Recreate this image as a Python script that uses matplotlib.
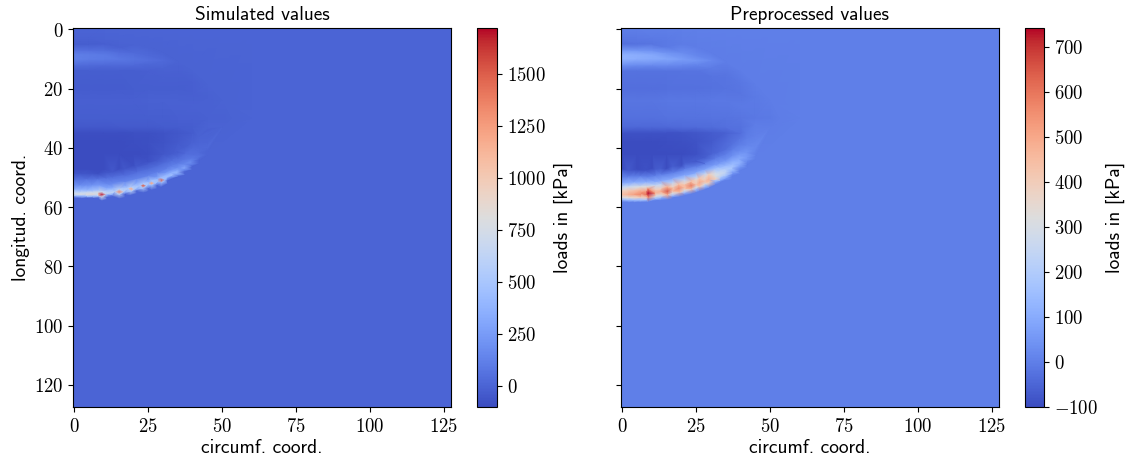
import matplotlib
matplotlib.use("Agg")
import matplotlib.pyplot as plt
from matplotlib.ticker import FuncFormatter
import numpy as np

plt.rcParams['mathtext.fontset'] = 'cm'
SANS = 'cmss10'

W, H = 1127, 463

# value read along the grid: for each column the rows and the load at those rows
base_cols = [0, 5, 10, 15, 20, 25, 30, 35, 40, 45, 50, 53]
base_rows = [
    [3, 5, 7, 8.5, 10, 12, 14, 20, 24, 30, 33, 35, 38, 42, 47],
    [3, 5, 7, 8.5, 10, 12, 14, 20, 24, 30, 33, 35, 38, 42, 47],
    [3, 5, 7, 8.5, 10, 12, 14, 20, 24, 30, 33, 35, 38, 42, 47],
    [4, 6, 8, 10, 12, 14, 20, 24, 30, 33, 35, 38, 42, 47],
    [5, 8, 10, 12, 14, 20, 24, 30, 33, 35, 38, 42, 46],
    [6, 9, 10.5, 12, 14, 20, 24, 30, 33, 35, 38, 42, 44.5],
    [8, 10.5, 13, 16, 20, 24, 30, 33, 35, 38, 42],
    [11, 15, 20, 24, 30, 33, 35, 38, 41],
    [14, 18, 22, 26, 30, 33, 35, 38],
    [18.6, 23, 30, 34, 36],
    [24, 30, 33],
    [30],
]
base_vals = [
    [-15, -28, 50, 115, 115, 35, -25, -32, -18, -28, -45, -90, -97, -100, -100],
    [-12, -24, 45, 105, 105, 30, -25, -32, -18, -28, -45, -90, -97, -100, -100],
    [-8, -20, 35, 95, 95, 25, -25, -32, -18, -28, -45, -90, -97, -100, -100],
    [-8, -10, 45, 85, 25, -25, -30, -17, -27, -42, -88, -95, -100, -100],
    [-6, 30, 65, 20, -24, -28, -16, -26, -40, -85, -92, -98, -92],
    [-3, 20, 45, 12, -22, -28, -15, -25, -38, -80, -85, -90, -78],
    [-2, 20, -6, -22, -26, -14, -24, -35, -70, -72, -55],
    [-2, -18, -24, -12, -22, -30, -58, -42, -18],
    [-2, -16, -18, -10, -18, -25, -32, -10],
    [-2, -10, -14, -18, -6],
    [-4, -9, -4],
    [-2],
]

# bright rim under the dark zone
ring_cols = [0, 2, 4, 6, 8, 11, 13, 17, 21, 25, 28, 31.5, 33, 34.9, 37.2, 39.6, 42, 45]
ring_rows = [55.7, 55.7, 55.7, 55.7, 55.7, 55.3, 55, 54.3, 53.3, 52.3, 51.3, 49.7, 49.1, 48.4, 46.8, 45, 43, 40]
sim_ring = [780, 760, 790, 860, 1000, 660, 630, 590, 550, 510, 480, 440, 460, 400, 290, 170, 60, 20]
pre_ring = [440, 480, 520, 560, 600, 470, 460, 440, 440, 430, 430, 320, 280, 240, 180, 120, 60, 20]

# rim shape: offset in rows from the rim and share of the peak
sim_offsets = [-7, -5, -3, -1.5, -0.7, 0.6, 1.2, 2.2]
sim_shares = [-0.08, 0.08, 0.25, 0.5, 0.8, 0.55, 0, 0]
pre_offsets = [-8, -6, -4, -2.5, -1.2, 1.0, 1.8, 2.6, 3.6]
pre_shares = [-0.15, 0.0, 0.2, 0.55, 0.85, 0.7, 0.3, 0, 0]

# hot spots
sim_hot_cols = [9.2, 15.2, 19.1, 23.3, 26.1, 29.3]
sim_hot_rows = [55.7, 54.8, 53.8, 52.8, 51.9, 50.9]
sim_hot_vals = [1700, 1350, 1150, 1500, 1200, 1500]
sim_hot_edge = [700, 620, 570, 530, 490, 460]
pre_hot_cols = [8.6, 15.2, 19.1, 23.3, 26.1, 29.3]
pre_hot_rows = [55.3, 54.6, 53.6, 52.6, 51.7, 50.5]
pre_hot_vals = [740, 650, 560, 600, 500, 480]
pre_hot_edge = [560, 480, 450, 450, 430, 400]

# empty part of the field
bg_cols = [-0.5, 20, 40, 60, 80, 127.5]
bg_rows = [-0.5, 30, 70, 100, 127.5]

xticks = [0, 25, 50, 75, 100, 125]
yticks = [0, 20, 40, 60, 80, 100, 120]
sim_cbar_ticks = [0, 250, 500, 750, 1000, 1250, 1500]
pre_cbar_ticks = [-100, 0, 100, 200, 300, 400, 500, 600, 700]
sim_lim = (-101, 1721)
pre_lim = (-100, 742)


def collect(ring, offsets, shares, hot_c, hot_r, hot_v, hot_e, spread):
    xs, ys, vs = [], [], []
    for c, rows, vals in zip(base_cols, base_rows, base_vals):
        xs += [c] * len(rows)
        ys += rows
        vs += vals
    for c, r, peak in zip(ring_cols, ring_rows, ring):
        xs.append(c)
        ys.append(r)
        vs.append(peak)
        for o, s in zip(offsets, shares):
            xs.append(c)
            ys.append(r + o)
            vs.append(peak * s)
    for c, r, peak, edge in zip(hot_c, hot_r, hot_v, hot_e):
        xs.append(c)
        ys.append(r)
        vs.append(peak)
        # ring of points so that the spot stays small
        for dc, dr in [(-spread * 1.6, 0), (spread * 1.6, 0), (0, -spread), (0, spread)]:
            xs.append(c + dc)
            ys.append(r + dr)
            vs.append(edge)
        # zero just under the spot, keeps the rim edge clean
        xs.append(c)
        ys.append(r + spread + 1.4)
        vs.append(0)
    for c in bg_cols:
        for r in bg_rows:
            # skip the ones inside the loaded zone
            if c < 53 and 0 < r < 60:
                continue
            xs.append(c)
            ys.append(r)
            vs.append(0)
    for c in base_cols[1:]:
        xs.append(c)
        ys.append(-0.5)
        vs.append(0)
    xs += [-0.5, -0.5, -0.5]
    ys += [30, 60, 57.2]
    vs += [-28, 0, 0]
    return np.array(xs, float), np.array(ys, float), np.array(vs, float)


def box(x0, y0, x1, y1):
    return [x0 / W, 1 - y1 / H, (x1 - x0) / W, (y1 - y0) / H]


def mfmt(v, pos):
    return r'$%d$' % v


fig = plt.figure(figsize=(W / 100, H / 100), dpi=100)

panels = [
    ("Simulated values", (sim_ring, sim_offsets, sim_shares, sim_hot_cols, sim_hot_rows, sim_hot_vals, sim_hot_edge, 0.8),
     sim_lim, sim_cbar_ticks, (73, 28, 451, 407), (477, 28, 497, 407)),
    ("Preprocessed values", (pre_ring, pre_offsets, pre_shares, pre_hot_cols, pre_hot_rows, pre_hot_vals, pre_hot_edge, 1.4),
     pre_lim, pre_cbar_ticks, (621, 28, 999, 407), (1025, 28, 1044, 407)),
]

for i, (title, args, lim, cticks, pos, cpos) in enumerate(panels):
    ax = fig.add_axes(box(*pos))
    x, y, v = collect(*args)
    m = ax.tripcolor(x, y, v, shading='gouraud', cmap='coolwarm', vmin=lim[0], vmax=lim[1])
    ax.set_xlim(-0.5, 127.5)
    ax.set_ylim(127.5, -0.5)
    ax.set_xticks(xticks)
    ax.set_yticks(yticks)
    ax.xaxis.set_major_formatter(FuncFormatter(mfmt))
    ax.yaxis.set_major_formatter(FuncFormatter(mfmt))
    ax.tick_params(labelsize=13.5)
    if i > 0:
        ax.set_yticklabels([])
    else:
        ax.set_ylabel("longitud. coord.", family=SANS, fontsize=14, labelpad=3)
    ax.set_xlabel("circumf. coord.", family=SANS, fontsize=14, labelpad=2.5)
    ax.set_title(title, family=SANS, fontsize=13.9, pad=6)

    cax = fig.add_axes(box(*cpos))
    cb = fig.colorbar(m, cax=cax)
    cb.set_ticks(cticks)
    cb.ax.yaxis.set_major_formatter(FuncFormatter(mfmt))
    cb.ax.tick_params(labelsize=13.5)
    cb.set_label("loads in [kPa]", family=SANS, fontsize=14, labelpad=6)

fig.savefig("out.png", dpi=100)
